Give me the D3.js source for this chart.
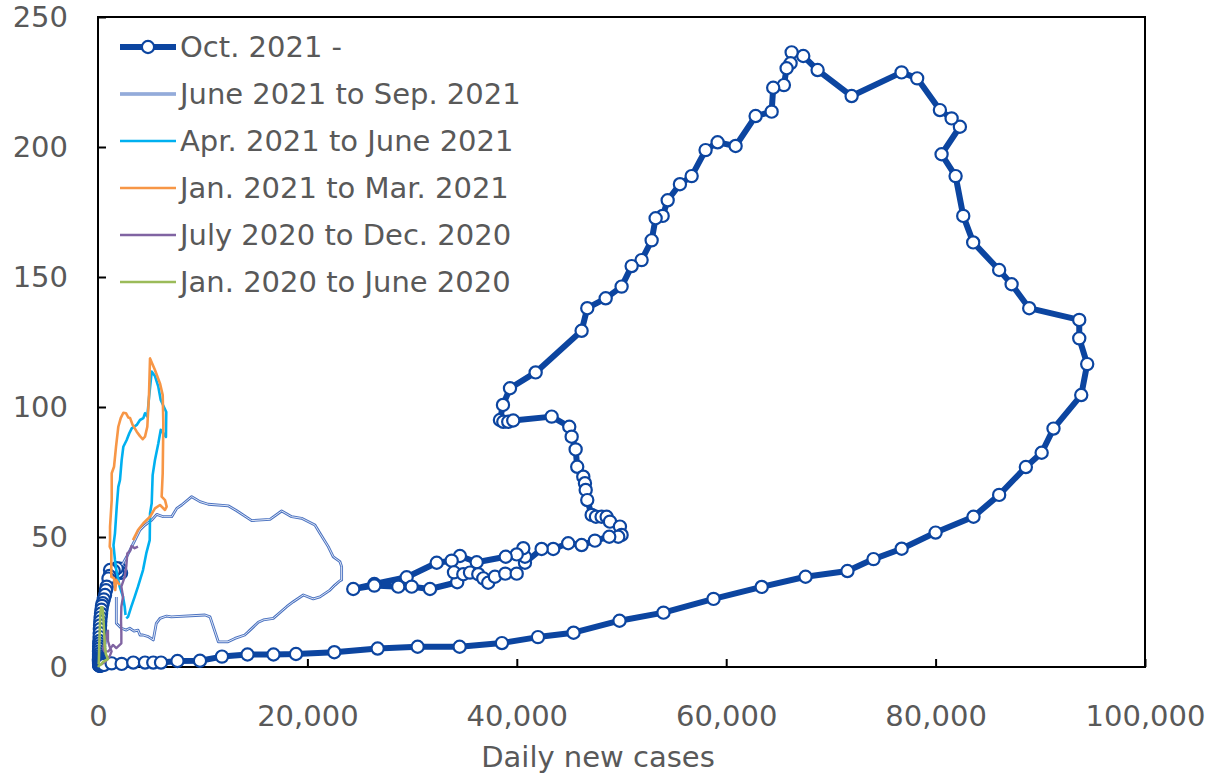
<!DOCTYPE html>
<html>
<head>
<meta charset="utf-8">
<script src="https://cdn.jsdelivr.net/npm/d3@7"></script>
<style>
  body { margin: 0; background: #ffffff; }
  svg text { font-family: "DejaVu Sans", Verdana, sans-serif; fill: #595959; }
</style>
</head>
<body>
<svg id="chart" width="1206" height="774"></svg>
<script>
// Axis ticks
const xTicks = [0, 20000, 40000, 60000, 80000, 100000];
const yTicks = [0, 50, 100, 150, 200, 250];
const xTitle = "Daily new cases";

// Legend labels (drawing order = legend order)
const legendLabels = [
  "Oct. 2021 -",
  "June 2021 to Sep. 2021",
  "Apr. 2021 to June 2021",
  "Jan. 2021 to Mar. 2021",
  "July 2020 to Dec. 2020",
  "Jan. 2020 to June 2020"
];

// [daily new cases, y value]
const periodOct2021 = [
  [2100,37.8],[2200,36.2],[1900,36.5],[1790,38.0],[1500,37.0],[1150,37.3],[1100,35],
  [1000,34],[830,30.9],[760,29.5],[670,27.7],[550,26],[450,24.5],[380,23.5],[330,22],
  [290,20.5],[250,19],[220,17.5],[200,16],[180,14.5],[160,13],[150,11.5],[130,10],[120,9],
  [110,8],[110,7],[100,6],[100,5],[100,4.2],[100,3.5],[90,3],[90,2.5],[100,2],[100,1.5],
  [110,1.2],[120,1],[130,0.8],[120,0.6],[130,0.5],[150,0.6],[170,0.5],[200,0.6],[250,0.7],
  [300,0.6],[400,0.7],[570,0.8],[1300,1.4],[2260,1.2],[3370,1.7],
  [4490,1.7],[5280,1.7],[6020,1.7],[7590,2.3],[9740,2.4],[11840,4.0],[14280,4.8],[16760,4.8],
  [18910,5.0],[22570,5.7],[26710,7.1],[30530,7.8],[34540,7.8],[38580,9.2],[42020,11.5],
  [45420,13.2],[49810,17.8],[54010,20.9],[58790,26.2],[63390,30.8],[67580,34.7],[71580,36.9],
  [74070,41.5],[76760,45.5],[80000,51.7],[83620,57.8],[86070,66.2],[88620,76.9],[90130,82.4],
  [91260,91.7],[93910,104.6],[94480,116.5],[93720,126.4],[93720,133.5],[88940,138.0],
  [87260,147.2],[86070,152.7],[83590,163.3],[82640,173.5],[81910,188.8],[80570,197.2],
  [82320,207.8],[81530,211.0],[80410,214.2],[78240,226.4],[76750,228.7],[71980,219.6],
  [68730,229.6],[67360,235.0],[66250,236.4],[66150,232.2],[65770,230.3],[65510,223.8],
  [64490,222.8],[64340,213.6],[62810,211.9],[60900,200.4],[59180,201.8],[58030,198.8],
  [56700,188.8],[55580,185.7],[54410,179.5],[53930,173.5],[53260,172.6],[52880,164.1],
  [51920,156.5],[50970,154.2],[50010,146.3],[48490,141.8],[46730,138.0],[46190,129.3],
  [41800,113.3],[39350,107.2],[38680,100.8],[38390,95.0],[38710,94.3],[39180,94.3],
  [39660,94.8],[43330,96.3],[45010,92.4],[45240,88.6],[45620,83.7],[45770,77.0],[46350,73.2],
  [46510,70.7],[46580,68.1],[46730,64.2],[47150,58.5],[47560,57.8],[48100,57.8],[48580,57.8],
  [48900,55.9],[49850,54.0],[50010,50.8],[49690,50.1],[48830,50.1],[47460,48.6],[46190,46.9],
  [44910,47.6],[43480,45.4],[42370,45.4],[40780,40.1],[40780,42.4],[40620,45.7],[39990,43.3],
  [38940,42.4],[36170,40.3],[34570,42.7],[33780,40.9],[32350,40.1],[29480,34.5],[26390,31.9],
  [24380,30.0],[26390,31.3],[28680,30.9],[29960,30.9],[31710,30.0],[34310,32.6],[34000,36.4],
  [34890,35.7],[35530,36.3],[36320,35.7],[36800,34.1],[37270,32.4],[37910,34.7],[38900,35.9],
  [39990,35.9]
];

const periodJun2021 = [
  [1750,26.9],[1750,16.8],[2230,14.9],[2700,14.2],[3030,14.9],[3440,13.8],[3820,14.2],
  [4010,12.3],[4300,12.3],[4800,11.7],[5280,10.4],[5570,16.8],[5920,18.7],[6560,19.6],
  [7000,19.3],[10220,20.0],[10700,19.3],[11490,9.7],[12420,9.7],[13080,11.0],[14010,12.3],
  [14280,13.3],[14420,13.8],[15310,17.2],[15790,18.1],[16740,18.7],[18020,23.2],[18650,25.1],
  [19610,27.7],[20560,26.2],[21200,27.0],[22160,29.6],[22630,31.5],[23110,33.2],[23270,33.5],
  [23270,38.6],[23110,40.5],[22470,42.4],[21990,46.3],[21200,51.4],[20720,54.6],[19450,57.2],
  [18500,57.8],[17540,60.0],[16430,56.8],[14680,56.3],[13250,60.1],[12440,62.0],[10530,62.6],
  [9740,63.6],[8950,65.5],[7990,62.3],[7520,61.0],[7040,57.8],[6240,57.8],[5610,58.7],
  [5130,56.5],[4490,54.6],[4010,52.7],[3530,48.8],[3220,46.3],[2740,42.4],[2290,39.2]
];

const periodApr2021 = [
  [2700,18.7],[2870,19.3],[3180,23.2],[3500,27.0],[3820,30.9],[4300,37.3],[4610,43.7],
  [4940,48.8],[4970,59.1],[5130,63.0],[5220,73.8],[5440,79.6],[5760,86.0],[5990,91.2],
  [6490,88.5],[6520,98.1],[5990,102.7],[5760,107.8],[5440,111.9],[5130,113.6],[4870,103.5],
  [4710,96.3],[4490,97.6],[4330,95.7],[4010,95.0],[3700,93.1],[3220,91.8],[2990,89.9],
  [2740,87.3],[2420,84.7],[2260,79.6],[2100,71.9],[1940,69.3],[1790,61.7],[1620,51.4],
  [1480,46.9],[1620,41.2],[1750,37.3],[2070,30.9],[2390,27.0],[2550,23.2],[2630,20.0]
];

const periodJan2021 = [
  [3340,48.8],[3820,52.7],[4330,55.3],[4970,57.8],[5440,61.0],[5920,62.3],[6400,60.4],
  [6560,61.7],[6400,64.2],[6080,65.5],[6180,74.5],[6240,93.7],[6180,104.6],[5920,109.1],
  [5440,114.2],[4970,118.7],[4870,104.6],[4710,92.4],[4490,88.6],[4270,87.6],[4010,88.8],
  [3700,90.5],[3310,93.1],[3060,95.8],[2890,96.0],[2670,97.6],[2420,97.8],[2170,95.7],
  [1940,92.4],[1720,84.7],[1530,77.0],[1310,74.5],[1310,64.2],[1150,54.0],[1150,48.8],
  [1120,46.3],[1270,45.0],[1270,34.7],[1530,34.2],[1650,29.6],[1750,33.5],[2070,31.5]
];

const periodJul2020 = [
  [300,1],[700,2],[1100,4],[1300,6],[1100,8],[950,10],[950,14],[800,12],[600,9],[500,7],
  [600,6],[800,6],[1000,6],[1430,8.5],[1750,7.3],[2230,9.1],[2230,13],[2200,18],[2230,23.2],
  [2390,27],[2230,30.9],[2550,34.7],[2700,38.6],[2800,43.7],[3060,44.6],[3200,46.5],
  [3500,45.7],[3820,46.3]
];

const periodJan2020 = [
  [0,0],[100,0.5],[300,1],[500,2],[700,2.5],[950,3],[750,5],[650,8],[600,12],[550,16],
  [500,20],[420,23],[300,23],[220,20],[180,16],[150,12],[120,8],[100,5],[80,2],[60,1]
];

const svg = d3.select("#chart");
const plot = { left: 98, right: 1145, top: 17, bottom: 667 };

const x = d3.scaleLinear().domain([0, 100000]).range([plot.left, plot.right]);
const y = d3.scaleLinear().domain([0, 250]).range([plot.bottom, plot.top]);

const line = d3.line().x(d => x(d[0])).y(d => y(d[1]));

const mainBlue = "#0c45a0";
const markerR = 6.1;

// thin period lines; the June–Sep line is a double (outlined) stroke
const thinSeries = [
  { data: periodJun2021, color: "#4a72c0", width: 2.8, inner: "#eef2fa" },
  { data: periodApr2021, color: "#00b0f0", width: 2.6 },
  { data: periodJan2021, color: "#f79646", width: 2.6 },
  { data: periodJul2020, color: "#8064a2", width: 2.4 },
  { data: periodJan2020, color: "#9bbb59", width: 2.6 }
];

// frame
svg.append("rect")
  .attr("x", plot.left).attr("y", plot.top)
  .attr("width", plot.right - plot.left).attr("height", plot.bottom - plot.top)
  .attr("fill", "none").attr("stroke", "#000").attr("stroke-width", 2);

// axes
const fontSize = 29;
const xAxis = svg.append("g")
  .attr("transform", `translate(0,${plot.bottom})`)
  .call(d3.axisBottom(x).tickValues(xTicks).tickSize(-8).tickPadding(38)
        .tickFormat(d3.format(",")));
const yAxis = svg.append("g")
  .attr("transform", `translate(${plot.left},0)`)
  .call(d3.axisLeft(y).tickValues(yTicks).tickSize(-8).tickPadding(30));

[xAxis, yAxis].forEach(g => {
  g.select(".domain").remove();
  g.selectAll(".tick line").attr("stroke", "#000").attr("stroke-width", 2);
  g.selectAll(".tick text")
    .attr("font-size", fontSize)
    .attr("font-family", "DejaVu Sans, Verdana, sans-serif")
    .attr("fill", "#595959");
});

svg.append("text")
  .attr("x", 598).attr("y", 767)
  .attr("text-anchor", "middle")
  .attr("font-size", fontSize)
  .text(xTitle);

// main series (drawn first, beneath the thin period lines)
svg.append("path")
  .datum(periodOct2021)
  .attr("d", line)
  .attr("fill", "none")
  .attr("stroke", mainBlue)
  .attr("stroke-width", 6)
  .attr("stroke-linejoin", "round");

svg.append("g").selectAll("circle")
  .data(periodOct2021)
  .join("circle")
  .attr("cx", d => x(d[0]))
  .attr("cy", d => y(d[1]))
  .attr("r", markerR)
  .attr("fill", "#fff")
  .attr("stroke", mainBlue)
  .attr("stroke-width", 2.2);

thinSeries.forEach(s => {
  svg.append("path")
    .datum(s.data)
    .attr("d", line)
    .attr("fill", "none")
    .attr("stroke", s.color)
    .attr("stroke-width", s.width)
    .attr("stroke-linejoin", "round");
  if (s.inner) {
    svg.append("path")
      .datum(s.data)
      .attr("d", line)
      .attr("fill", "none")
      .attr("stroke", s.inner)
      .attr("stroke-width", 0.9)
      .attr("stroke-linejoin", "round");
  }
});

// legend
const legend = svg.append("g");
const legendY = d3.scaleLinear().domain([0, 5]).range([47, 282]);
const legendStyles = [{ color: mainBlue, width: 6, marker: true }].concat(thinSeries);
legendLabels.forEach((label, i) => {
  const ly = legendY(i);
  const st = legendStyles[i];
  legend.append("line")
    .attr("x1", 120).attr("x2", 176).attr("y1", ly).attr("y2", ly)
    .attr("stroke", st.color).attr("stroke-width", st.width);
  if (st.inner) {
    legend.append("line")
      .attr("x1", 120).attr("x2", 176).attr("y1", ly).attr("y2", ly)
      .attr("stroke", st.inner).attr("stroke-width", 0.9);
  }
  if (st.marker) {
    legend.append("circle")
      .attr("cx", 148).attr("cy", ly).attr("r", markerR)
      .attr("fill", "#fff").attr("stroke", mainBlue).attr("stroke-width", 2.2);
  }
  legend.append("text")
    .attr("x", 180).attr("y", ly).attr("dy", "0.36em")
    .attr("font-size", fontSize)
    .text(label);
});
</script>
</body>
</html>
